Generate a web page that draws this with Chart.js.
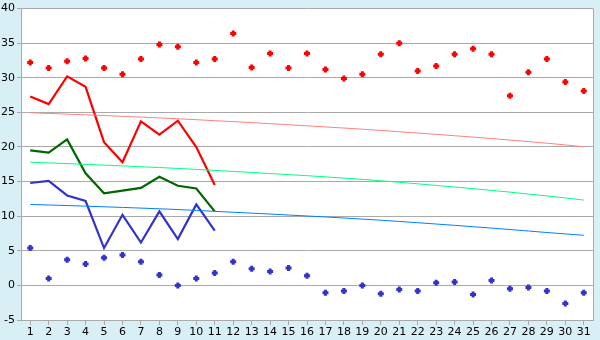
<!DOCTYPE html>
<html>
<head>
<meta charset="utf-8">
<script src="https://cdn.jsdelivr.net/npm/chart.js@4/dist/chart.umd.min.js"></script>
<style>
  html, body { margin: 0; padding: 0; background: #d9eff6; }
  #wrap { width: 600px; height: 340px; }
</style>
</head>
<body>
<div id="wrap"><canvas id="c" width="600" height="340"></canvas></div>
<script>
const days = ['1','2','3','4','5','6','7','8','9','10','11','12','13','14','15','16',
  '17','18','19','20','21','22','23','24','25','26','27','28','29','30','31'];

// top red crosses
const highPoints = [32.2, 31.4, 32.4, 32.8, 31.4, 30.5, 32.7, 34.8, 34.5, 32.2, 32.7,
  36.4, 31.5, 33.5, 31.4, 33.5, 31.2, 29.9, 30.5, 33.4, 35.0, 31.0, 31.7, 33.4, 34.2,
  33.4, 27.4, 30.8, 32.7, 29.4, 28.1];

// bottom blue crosses
const lowPoints = [5.4, 1.0, 3.7, 3.1, 4.0, 4.4, 3.4, 1.5, 0.0, 1.0, 1.8,
  3.4, 2.4, 2.0, 2.5, 1.4, -1.05, -0.8, 0.0, -1.2, -0.6, -0.8, 0.4, 0.5, -1.3,
  0.7, -0.5, -0.3, -0.8, -2.6, -1.05];

// first eleven days, solid lines
const redLine   = [27.3, 26.2, 30.2, 28.7, 20.7, 17.8, 23.7, 21.8, 23.8, 20.0, 14.5];
const greenLine = [19.5, 19.2, 21.1, 16.2, 13.3, 13.7, 14.1, 15.7, 14.4, 14.0, 10.7];
const blueLine  = [14.8, 15.1, 13.0, 12.2, 5.4, 10.2, 6.2, 10.7, 6.7, 11.7, 7.9];

// thin trend curves
const pinkTrend = [24.95, 24.85, 24.75, 24.65, 24.55, 24.43, 24.32, 24.2, 24.08, 23.95, 23.8,
  23.67, 23.52, 23.37, 23.22, 23.06, 22.9, 22.74, 22.57, 22.4, 22.2, 22.02, 21.83, 21.63,
  21.43, 21.22, 21.0, 20.78, 20.55, 20.3, 20.02];
const mintTrend = [17.8, 17.7, 17.6, 17.49, 17.38, 17.27, 17.15, 17.03, 16.9, 16.76, 16.62,
  16.47, 16.32, 16.17, 16.01, 15.85, 15.69, 15.5, 15.32, 15.12, 14.9, 14.68, 14.45, 14.22,
  13.98, 13.73, 13.48, 13.2, 12.93, 12.64, 12.33];
const skyTrend = [11.7, 11.62, 11.54, 11.45, 11.36, 11.27, 11.17, 11.07, 10.96, 10.84, 10.7,
  10.57, 10.44, 10.31, 10.17, 10.03, 9.89, 9.74, 9.58, 9.42, 9.24, 9.06, 8.87, 8.68,
  8.48, 8.28, 8.07, 7.86, 7.64, 7.44, 7.24];

const plotFrame = {
  id: 'plotFrame',
  beforeDraw(chart) {
    const { ctx, chartArea: a } = chart;
    ctx.save();
    ctx.fillStyle = '#ffffff';
    ctx.fillRect(a.left, a.top, a.right - a.left, a.bottom - a.top);
    ctx.restore();
  },
  afterDraw(chart) {
    const { ctx, chartArea: a } = chart;
    ctx.save();
    ctx.strokeStyle = '#aaaaaa';
    ctx.lineWidth = 1;
    ctx.beginPath();
    ctx.moveTo(a.right + 0.5, a.top);
    ctx.lineTo(a.right + 0.5, a.bottom);
    ctx.stroke();
    ctx.restore();
  }
};

function trend(data, color) {
  return { data, borderColor: color, borderWidth: 1, pointRadius: 0, tension: 0, fill: false };
}
function solid(data, color) {
  return { data, borderColor: color, borderWidth: 2.2, pointRadius: 0, tension: 0, fill: false };
}
function crosses(data, color) {
  return { data, showLine: false, pointStyle: 'cross', pointRadius: 3, borderWidth: 3,
    pointBorderColor: color, pointBackgroundColor: color, borderColor: color };
}

new Chart(document.getElementById('c'), {
  type: 'line',
  data: {
    labels: days,
    datasets: [
      trend(pinkTrend, '#ff8080'),
      trend(mintTrend, '#00ff80'),
      trend(skyTrend, '#0080ff'),
      solid(redLine, '#ff0000'),
      solid(greenLine, '#006600'),
      solid(blueLine, '#3333cc'),
      crosses(highPoints, '#ff0000'),
      crosses(lowPoints, '#3333cc')
    ]
  },
  options: {
    responsive: false,
    animation: false,
    events: [],
    layout: { padding: { top: 5, right: 5, left: 0, bottom: 0 } },
    plugins: { legend: { display: false }, tooltip: { enabled: false } },
    scales: {
      x: {
        offset: true,
        afterFit: s => { s.height = 20; },
        grid: { drawOnChartArea: false, drawTicks: true, tickLength: 5, color: '#aaaaaa' },
        border: { color: '#aaaaaa' },
        ticks: { color: '#000', padding: 1, maxRotation: 0, autoSkip: false,
          font: { family: 'DejaVu Sans', size: 11 } }
      },
      y: {
        min: -5, max: 40,
        afterFit: s => { s.width = 21; },
        grid: { color: '#aaaaaa', tickLength: 4 },
        border: { color: '#aaaaaa' },
        ticks: { stepSize: 5, color: '#000', padding: 2,
          font: { family: 'DejaVu Sans', size: 11 } }
      }
    }
  },
  plugins: [plotFrame]
});
</script>
</body>
</html>
